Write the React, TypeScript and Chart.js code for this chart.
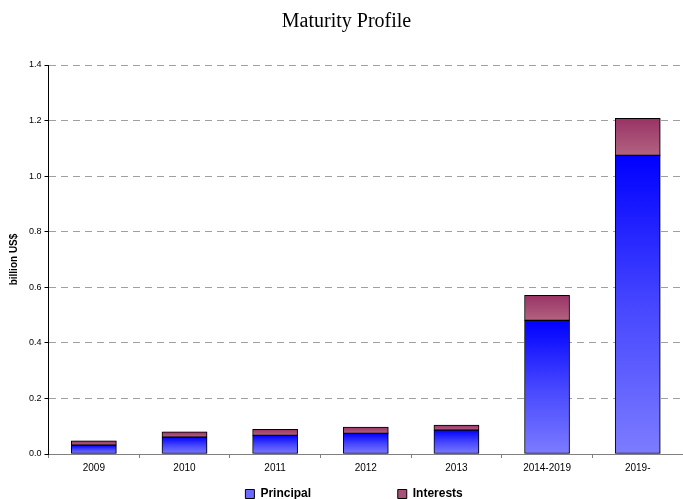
import React, { useEffect, useRef } from "react";
import { Chart, registerables } from "chart.js";

Chart.register(...registerables);

const categories = ["2009", "2010", "2011", "2012", "2013", "2014-2019", "2019-"];
const principal = [0.032, 0.061, 0.067, 0.074, 0.086, 0.481, 1.075];
const interests = [0.015, 0.019, 0.022, 0.023, 0.018, 0.09, 0.133];
const yTicks = [0, 0.2, 0.4, 0.6, 0.8, 1.0, 1.2, 1.4];

const SANS = "'Liberation Sans', Arial, sans-serif";
const SERIF = "'Liberation Serif', 'Times New Roman', serif";

function gradFill(ctx: any, kind: "p" | "i") {
  const chart = ctx.chart;
  const y = chart.scales?.y;
  if (!y || ctx.type !== "data") return kind === "p" ? "#6666FF" : "#A85078";
  const i = ctx.dataIndex;
  const base = kind === "p" ? 0 : principal[i];
  const top = kind === "p" ? principal[i] : principal[i] + interests[i];
  const y0 = y.getPixelForValue(top);
  const y1 = y.getPixelForValue(base);
  const g = chart.ctx.createLinearGradient(0, y0, 0, y1 === y0 ? y0 + 1 : y1);
  if (kind === "p") {
    g.addColorStop(0, "#0000FF");
    g.addColorStop(0.5, "#4646FF");
    g.addColorStop(1, "#7C7CFF");
  } else {
    g.addColorStop(0, "#993366");
    g.addColorStop(1, "#B2637F");
  }
  return g;
}

const shadowPlugin = {
  id: "barShadow",
  beforeDatasetsDraw(chart: any) {
    const c = chart.ctx;
    c.save();
    c.shadowColor = "rgba(0,0,0,0.25)";
    c.shadowOffsetX = 2;
    c.shadowOffsetY = 0;
    c.shadowBlur = 0;
  },
  afterDatasetsDraw(chart: any) {
    chart.ctx.restore();
  },
};

export default function App() {
  const ref = useRef<HTMLCanvasElement | null>(null);
  useEffect(() => {
    if (!ref.current) return;
    const chart = new Chart(ref.current, {
      type: "bar",
      data: {
        labels: categories,
        datasets: [
          {
            label: "Principal",
            data: principal,
            backgroundColor: (ctx: any) => gradFill(ctx, "p"),
            borderColor: "#000000",
            borderWidth: 1,
            borderSkipped: false,
            barThickness: 45,
          },
          {
            label: "Interests",
            data: interests,
            backgroundColor: (ctx: any) => gradFill(ctx, "i"),
            borderColor: "#000000",
            borderWidth: 1,
            borderSkipped: false,
            barThickness: 45,
          },
        ],
      },
      plugins: [shadowPlugin],
      options: {
        animation: false,
        responsive: true,
        maintainAspectRatio: false,
        layout: { padding: { left: 8, right: -2, top: 0, bottom: -11 } },
        plugins: {
          title: {
            display: true,
            text: "Maturity Profile",
            color: "#000000",
            font: { family: SERIF, size: 20, weight: "normal" },
            padding: { top: 10, bottom: 31 },
          },
          legend: {
            display: true,
            position: "bottom",
            fullSize: false,
            labels: {
              boxWidth: 9,
              boxHeight: 9,
              padding: 10,
              color: "#000000",
              font: { family: SANS, size: 12, weight: "bold" },
              generateLabels: () => [
                {
                  text: "Principal" + " ".repeat(23),
                  fillStyle: "#6A6AFF",
                  strokeStyle: "#000000",
                  lineWidth: 1,
                  datasetIndex: 0,
                  hidden: false,
                },
                {
                  text: "Interests" + " ".repeat(7),
                  fillStyle: "#A85078",
                  strokeStyle: "#000000",
                  lineWidth: 1,
                  datasetIndex: 1,
                  hidden: false,
                },
              ],
            },
          },
          tooltip: { enabled: false },
        },
        scales: {
          x: {
            stacked: true,
            offset: true,
            grid: {
              offset: true,
              drawOnChartArea: false,
              drawTicks: true,
              tickLength: 4,
              tickColor: "#808080",
              color: "#808080",
            },
            border: { display: true, color: "#808080", width: 1 },
            ticks: {
              color: "#000000",
              font: { family: SANS, size: 10 },
              padding: 4,
              maxRotation: 0,
              autoSkip: false,
            },
          },
          y: {
            stacked: true,
            min: 0,
            max: 1.4,
            afterBuildTicks: (axis: any) => {
              axis.ticks = yTicks.map((v) => ({ value: v }));
            },
            grid: {
              color: "#A0A0A0",
              lineWidth: 1,
              drawTicks: true,
              tickLength: 4,
              tickColor: "#000000",
              tickBorderDash: [],
            },
            border: { display: true, color: "#000000", width: 1, dash: [7, 5] },
            ticks: {
              color: "#000000",
              font: { family: SANS, size: 9 },
              padding: 3,
              callback: (v: any) => Number(v).toFixed(1),
            },
            title: {
              display: true,
              text: "billion US$",
              color: "#000000",
              font: { family: SANS, size: 10, weight: "bold" },
              padding: { top: 0, bottom: 6 },
            },
          },
        },
      },
    } as any);
    return () => chart.destroy();
  }, []);
  return (
    <div style={{ position: "fixed", left: 0, top: 0, width: 683, height: 499, background: "#fff" }}>
      <canvas ref={ref} />
    </div>
  );
}
